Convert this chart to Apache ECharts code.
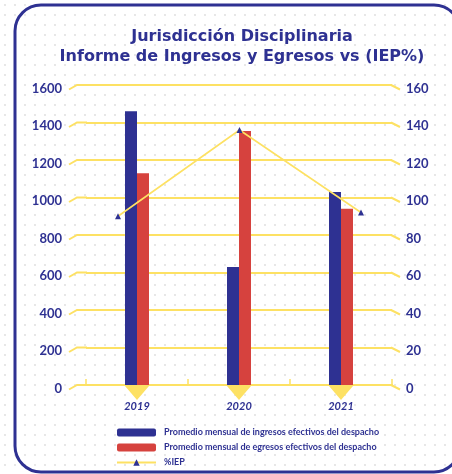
<!DOCTYPE html>
<html><head><meta charset="utf-8">
<script src="https://cdn.jsdelivr.net/npm/echarts@6/dist/echarts.min.js"></script>
<style>html,body{margin:0;padding:0;background:#fff}#c{width:452px;height:474px}</style>
</head><body><div id="c"></div>
<script>
const categories = ['2019', '2020', '2021'];
const ingresos = [1460, 630, 1030];
const egresos = [1130, 1355, 940];
const iep = [90, 136, 92];
const leftTicks = [0, 1600, 200];
const rightTicks = [0, 160, 20];
const seriesNames = ['Promedio mensual de ingresos efectivos del despacho', 'Promedio mensual de egresos efectivos del despacho', '%IEP'];

const BLUE = '#2E3192', RED = '#D6423E', YEL = '#FDE163';
const FONT = 'Lato';

const pat = document.createElement('canvas');
pat.width = 10; pat.height = 10;
const pc = pat.getContext('2d');
pc.fillStyle = '#dcdcdc';
pc.beginPath(); pc.arc(5, 5, 0.9, 0, Math.PI * 2); pc.fill();

const chart = echarts.init(document.getElementById('c'), null, {renderer: 'canvas'});
const TOP = 85, BOTTOM = 89;
const border = {type: 'rect', id: 'border', shape: {x: 15, y: 5, width: 445, height: 467, r: 26}, style: {fill: null, stroke: BLUE, lineWidth: 3}, z: 100};

const yLabel = {color: BLUE, fontFamily: FONT, fontWeight: 'bold', fontSize: 13, verticalAlign: 'top', lineHeight: 7, formatter: v => String(v)};

const option = {
  backgroundColor: {image: pat, repeat: 'repeat'},
  animation: false,
  title: {
    text: 'Jurisdicción Disciplinaria\nInforme de Ingresos y Egresos vs (IEP%)',
    left: 237, textAlign: 'center', top: 22,
    textStyle: {color: BLUE, fontFamily: 'DejaVu Sans', fontWeight: 'bold', fontSize: 16, lineHeight: 20}
  },
  grid: [
    {left: 86, right: 60, top: TOP, bottom: BOTTOM},
    {left: 118, right: 91, top: TOP, bottom: BOTTOM}
  ],
  xAxis: [
    {type: 'category', gridIndex: 0, data: categories, boundaryGap: true,
     axisLine: {lineStyle: {color: YEL, width: 2}},
     axisTick: {show: true, inside: true, length: 6, lineStyle: {color: YEL, width: 1.5}},
     axisLabel: {margin: 16, color: BLUE, fontFamily: FONT, fontWeight: 'bold', fontStyle: 'italic', fontSize: 11}},
    {type: 'category', gridIndex: 1, data: categories, boundaryGap: false, show: false}
  ],
  yAxis: [
    {type: 'value', gridIndex: 0, min: leftTicks[0], max: leftTicks[1], interval: leftTicks[2], position: 'left',
     axisLine: {show: false}, axisTick: {show: false},
     splitLine: {lineStyle: {color: YEL, width: 2}},
     axisLabel: Object.assign({margin: 24}, yLabel)},
    {type: 'value', gridIndex: 0, min: rightTicks[0], max: rightTicks[1], interval: rightTicks[2], position: 'right',
     axisLine: {show: false}, axisTick: {show: false}, splitLine: {show: false},
     axisLabel: Object.assign({margin: 14}, yLabel)},
    {type: 'value', gridIndex: 1, min: rightTicks[0], max: rightTicks[1], show: false, splitLine: {show: false}}
  ],
  legend: {
    orient: 'vertical', left: 111, top: 423, itemWidth: 39, itemHeight: 8, itemGap: 6,
    data: seriesNames,
    textStyle: {color: BLUE, fontFamily: FONT, fontWeight: 'bold', fontSize: 9, padding: [0, 0, 0, 3]}
  },
  series: [
    {name: seriesNames[0], type: 'bar', xAxisIndex: 0, yAxisIndex: 0, data: ingresos, barWidth: 12, barGap: '0%', itemStyle: {color: BLUE}, z: 3},
    {name: seriesNames[1], type: 'bar', xAxisIndex: 0, yAxisIndex: 0, data: egresos, barWidth: 12, barGap: '0%', itemStyle: {color: RED}, z: 3},
    {name: seriesNames[2], type: 'line', xAxisIndex: 1, yAxisIndex: 2, data: iep,
     symbol: 'triangle', symbolSize: 6, itemStyle: {color: BLUE}, lineStyle: {color: YEL, width: 1.6}, z: 5},
    {name: 'tri', type: 'scatter', xAxisIndex: 0, yAxisIndex: 0, data: categories.map(c => [c, 0]),
     symbol: 'triangle', symbolRotate: 180, symbolSize: [24, 14], symbolOffset: [0, 8], itemStyle: {color: YEL, opacity: 1}, z: 2, silent: true}
  ],
  graphic: [border]
};
chart.setOption(option);

const g = [border];
for (let v = leftTicks[0]; v <= leftTicks[1]; v += leftTicks[2]) {
  const y = chart.convertToPixel({yAxisIndex: 0}, v);
  g.push({type: 'polyline', shape: {points: [[69, y + 4.5], [77, y], [87, y]]}, style: {fill: null, stroke: YEL, lineWidth: 2}, z: 1});
  g.push({type: 'polyline', shape: {points: [[391, y], [400, y + 4.5]]}, style: {fill: null, stroke: YEL, lineWidth: 2}, z: 1});
}
chart.setOption({graphic: g});
</script></body></html>
